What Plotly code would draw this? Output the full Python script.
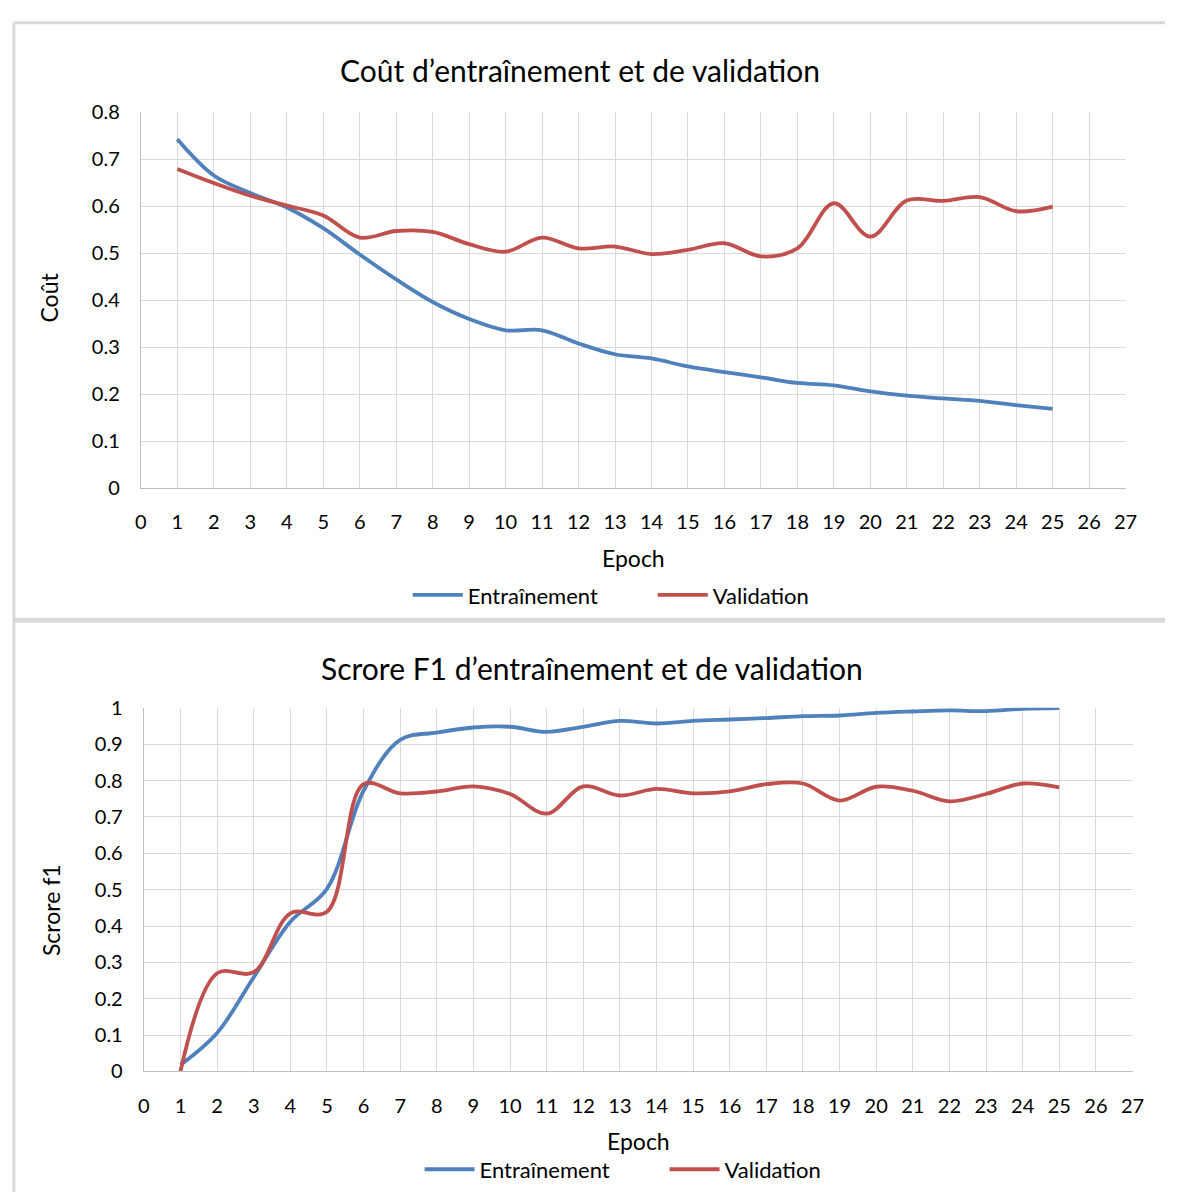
import plotly.graph_objects as go

W, H = 1177, 1203

epochs = list(range(1, 26))

loss_train = [0.742, 0.665, 0.628, 0.597, 0.553, 0.497, 0.444, 0.396, 0.360, 0.336,
              0.336, 0.308, 0.285, 0.276, 0.259, 0.247, 0.236, 0.224, 0.219, 0.206,
              0.197, 0.191, 0.186, 0.177, 0.169]
loss_val = [0.679, 0.649, 0.622, 0.601, 0.580, 0.533, 0.547, 0.545, 0.519, 0.503,
            0.533, 0.510, 0.514, 0.498, 0.507, 0.521, 0.493, 0.510, 0.606, 0.535,
            0.612, 0.611, 0.619, 0.589, 0.599]

f1_train = [0.018, 0.106, 0.259, 0.412, 0.502, 0.772, 0.912, 0.932, 0.946, 0.948,
            0.934, 0.948, 0.964, 0.957, 0.964, 0.968, 0.972, 0.977, 0.979, 0.986,
            0.990, 0.993, 0.991, 0.997, 0.999]
f1_val = [0.0, 0.270, 0.273, 0.435, 0.439, 0.790, 0.765, 0.770, 0.784, 0.763,
          0.709, 0.784, 0.759, 0.777, 0.765, 0.770, 0.790, 0.792, 0.745, 0.783,
          0.772, 0.743, 0.763, 0.792, 0.781]

x_ticks = list(range(0, 28))
loss_ticks = [0, 0.1, 0.2, 0.3, 0.4, 0.5, 0.6, 0.7, 0.8]
loss_tick_text = ["0", "0.1", "0.2", "0.3", "0.4", "0.5", "0.6", "0.7", "0.8"]
f1_ticks = [0, 0.1, 0.2, 0.3, 0.4, 0.5, 0.6, 0.7, 0.8, 0.9, 1.0]
f1_tick_text = ["0", "0.1", "0.2", "0.3", "0.4", "0.5", "0.6", "0.7", "0.8", "0.9", "1"]

title_top = "Coût d’entraînement et de validation"
title_bot = "Scrore F1 d’entraînement et de validation"
xlabel = "Epoch"
ylabel_top = "Coût"
ylabel_bot = "Scrore f1"
name_train = "Entraînement"
name_val = "Validation"

BLUE = "#4f81bd"
RED = "#c0504d"
GRID = "#d9d9d9"
FONT = "Lato"
TXT = "#000000"


def px_x(p):
    return p / W


def px_y(p):
    return 1 - p / H


fig = go.Figure()

line_kw = dict(mode="lines", line_shape="spline")
fig.add_trace(go.Scatter(x=epochs, y=loss_train, name=name_train, xaxis="x", yaxis="y",
                         line=dict(color=BLUE, width=3.8, smoothing=1.0), legend="legend", **line_kw))
fig.add_trace(go.Scatter(x=epochs, y=loss_val, name=name_val, xaxis="x", yaxis="y",
                         line=dict(color=RED, width=3.8, smoothing=1.0), legend="legend", **line_kw))
fig.add_trace(go.Scatter(x=epochs, y=f1_train, name=name_train, xaxis="x2", yaxis="y2",
                         line=dict(color=BLUE, width=3.8, smoothing=1.0), legend="legend2", **line_kw))
fig.add_trace(go.Scatter(x=epochs, y=f1_val, name=name_val, xaxis="x2", yaxis="y2",
                         line=dict(color=RED, width=3.8, smoothing=1.0), legend="legend2", **line_kw))

axis_common = dict(showgrid=True, gridcolor=GRID, gridwidth=1.3, zeroline=False,
                   showline=True, linecolor="#bfbfbf", linewidth=1.3, ticks="",
                   ticklabelstandoff=16,
                   tickfont=dict(family=FONT, size=20, color=TXT))

legend_common = dict(orientation="h", xanchor="left", yanchor="middle",
                     font=dict(family=FONT, size=22, color=TXT),
                     itemwidth=50, entrywidth=180, entrywidthmode="pixels",
                     bgcolor="rgba(0,0,0,0)", traceorder="normal")


def label(text, x, y, size, angle=0):
    return dict(text=text, x=px_x(x), y=px_y(y), xref="paper", yref="paper",
                showarrow=False, xanchor="center", yanchor="middle", textangle=angle,
                font=dict(family=FONT, size=size, color=TXT))


fig.update_layout(
    width=W, height=H,
    margin=dict(l=0, r=0, t=0, b=0),
    paper_bgcolor="white", plot_bgcolor="white",
    font=dict(family=FONT, color=TXT),
    xaxis=dict(domain=[px_x(137), px_x(1137)], range=[0, 27], tickvals=x_ticks,
               anchor="y", **axis_common),
    yaxis=dict(domain=[px_y(485), px_y(101)], range=[0, 0.8], tickvals=loss_ticks,
               ticktext=loss_tick_text, anchor="x", **axis_common),
    xaxis2=dict(domain=[px_x(140), px_x(1144)], range=[0, 27], tickvals=x_ticks,
                anchor="y2", **axis_common),
    yaxis2=dict(domain=[px_y(1080), px_y(709)], range=[0, 1.0], tickvals=f1_ticks,
                ticktext=f1_tick_text, anchor="x2", **axis_common),
    legend=dict(x=px_x(408), y=px_y(594), **legend_common),
    legend2=dict(x=px_x(420), y=px_y(1180), **legend_common),
    annotations=[
        label(title_top, 583, 58, 30),
        label(title_bot, 595, 668, 30),
        label(xlabel, 637, 556, 23),
        label(xlabel, 642, 1151, 23),
        label(ylabel_top, 44, 290, 23, -90),
        label(ylabel_bot, 45, 915, 23, -90),
    ],
    shapes=[
        dict(type="line", xref="paper", yref="paper", x0=px_x(8), x1=1, y0=px_y(10), y1=px_y(10),
             line=dict(color=GRID, width=3)),
        dict(type="line", xref="paper", yref="paper", x0=px_x(8), x1=px_x(8), y0=0, y1=px_y(10),
             line=dict(color=GRID, width=3)),
        dict(type="line", xref="paper", yref="paper", x0=px_x(8), x1=1, y0=px_y(619.5), y1=px_y(619.5),
             line=dict(color=GRID, width=5)),
    ],
)

fig.write_html("out.html")
